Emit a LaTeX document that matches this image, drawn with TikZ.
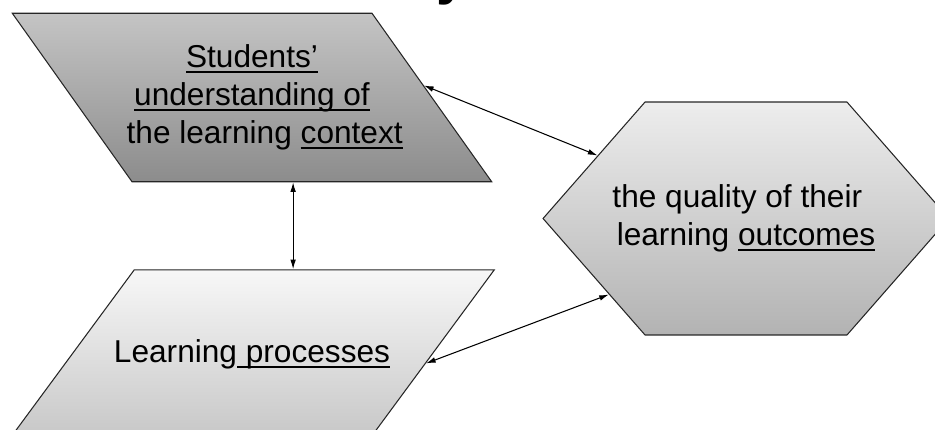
\documentclass[tikz,border=0pt]{standalone}
\usepackage{fontspec}
\setmainfont{Liberation Sans}
\usetikzlibrary{shapes.geometric, shapes.symbols, arrows.meta, positioning, calc}
\newsavebox{\ulnbox}
\newcommand{\uln}[1]{\sbox{\ulnbox}{#1}\rlap{\rule[-3pt]{\wd\ulnbox}{1.1pt}}\usebox{\ulnbox}}

\begin{document}
\begin{tikzpicture}[
      x=0.02cm, y=-0.02cm,
      node distance=1.74cm,
      txt/.style={align=center, inner sep=0pt, font=\fontsize{18}{21.6}\selectfont},
      box/.style={draw=black!85, line width=0.6pt},
      ctxbox/.style={box, trapezium, trapezium left angle=125.4, trapezium right angle=54.6,
        inner xsep=2.4cm, inner ysep=1.685cm, top color=black!23, bottom color=black!45},
      procbox/.style={box, trapezium, trapezium left angle=53.6, trapezium right angle=126.4,
        inner xsep=2.355cm, inner ysep=1.69cm, top color=black!3, bottom color=black!22},
      hexbox/.style={box, signal, signal to=west and east, signal pointer angle=97.6,
        inner xsep=2.02cm, inner ysep=2.33cm, top color=black!7, bottom color=black!30},
      line/.style={draw, {Latex[length=5.5pt,width=3.2pt]}-{Latex[length=5.5pt,width=3.2pt]}, line width=0.6pt}
    ]
    \useasboundingbox (0,0) rectangle (935,429);

    % Nodes
    \node[font=\fontsize{32}{32}\selectfont\bfseries, anchor=base west, inner sep=0pt] (title) at (436,-6) {y};
    \node[ctxbox, label={[txt]center:\uln{Students'}\\ \uln{understanding of}\\ \hspace*{0.8em}the learning \uln{context}}] (ctx) at (252,97.5) {};
    \node[procbox, below=of ctx, label={[txt]center:Learning\uln{ processes}}] (proc) {};
    \node[hexbox, label={[txt]center:the quality of their\hspace*{0.55em}\\ learning \uln{outcomes}}] (hex) at (746,218.5) {};

    % Connections
    \draw[line] ($(ctx.bottom left corner)!.447!(ctx.bottom right corner)$) coordinate (vtop) -- (proc.north -| vtop);
    \draw[line] (ctx.4) -- (hex.157);
    \draw[line] (proc.-3) -- (hex.209);
  \end{tikzpicture}
\end{document}
